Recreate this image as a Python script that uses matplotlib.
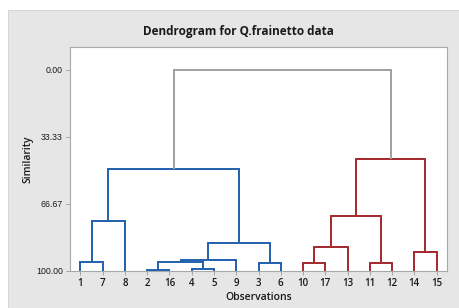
import matplotlib
matplotlib.use("Agg")
import matplotlib.pyplot as plt
from matplotlib.patches import Rectangle

# Leaf order (observation labels) as shown on x-axis
leaves = ["1", "7", "8", "2", "16", "4", "5", "9", "3", "6",
          "10", "17", "13", "11", "12", "14", "15"]

# Merges: name, left child, right child, similarity, colour group
merge_names = ["a", "b", "c", "d", "e", "f", "g", "h", "blue",
               "i", "j", "l", "k", "n", "red", "root"]
merge_left = ["1", "a", "2", "4", "c", "e", "3", "f", "b",
              "10", "i", "11", "j", "14", "k", "blue"]
merge_right = ["7", "8", "16", "5", "d", "9", "6", "g", "h",
               "17", "13", "12", "l", "15", "n", "red"]
merge_sim = [95.7, 75.3, 99.6, 99.0, 95.7, 94.4, 96.2, 86.1, 49.3,
             96.2, 88.3, 96.2, 72.5, 90.4, 44.2, 0.0]
merge_group = ["blue"] * 9 + ["red"] * 6 + ["root"]

colors = {"blue": "#2060ad", "red": "#a3282c", "root": "#a0a0a0"}

fig = plt.figure(figsize=(4.59, 3.08), dpi=100)
fig.patch.set_facecolor("white")
bg = Rectangle((8 / 459, 0), 1, 1 - 10 / 308, transform=fig.transFigure,
               facecolor="#e6e6e6", edgecolor="#d0d0d0", lw=0.6, zorder=-10)
fig.add_artist(bg)

ax = fig.add_axes([70 / 459, 37 / 308, 377 / 459, 224 / 308])
ax.set_facecolor("white")

pos = {lab: float(i) for i, lab in enumerate(leaves)}
hgt = {lab: 100.0 for lab in leaves}
for name, l, r, s, g in zip(merge_names, merge_left, merge_right, merge_sim, merge_group):
    xl, xr = pos[l], pos[r]
    ax.plot([xl, xl, xr, xr], [hgt[l], s, s, hgt[r]], color=colors[g], lw=1.4,
            solid_joinstyle="miter", solid_capstyle="butt", zorder=3)
    pos[name] = (xl + xr) / 2
    hgt[name] = s

ax.set_xlim(-0.47, 16.47)
ax.set_ylim(100, -11.3)
ax.set_xticks(range(len(leaves)))
ax.set_xticklabels(leaves, fontsize=7, color="#1a1a1a", family="Open Sans",
                   fontweight="semibold")
ax.set_yticks([0, 33.33, 66.67, 100])
ax.set_yticklabels(["0.00", "33.33", "66.67", "100.00"], fontsize=6.3, color="#1a1a1a",
                   family="Liberation Sans")
ax.tick_params(axis="both", length=3, width=0.6, color="#999999", pad=2)
for sp in ax.spines.values():
    sp.set_color("#a8a8a8")
    sp.set_linewidth(0.8)

ax.set_xlabel("Observations", fontsize=7.5, family="Open Sans", fontweight="semibold",
              color="#1a1a1a", labelpad=2)
ax.set_ylabel("Similarity", fontsize=7.5, family="Open Sans", fontweight="semibold",
              color="#1a1a1a", labelpad=2)
fig.text(238 / 459, 1 - 31 / 308, "Dendrogram for Q.frainetto data", ha="center", va="center",
         fontsize=8.5, fontweight="bold", family="Open Sans", color="#1a1a1a")

fig.savefig("out.png", dpi=100, facecolor=fig.get_facecolor())
